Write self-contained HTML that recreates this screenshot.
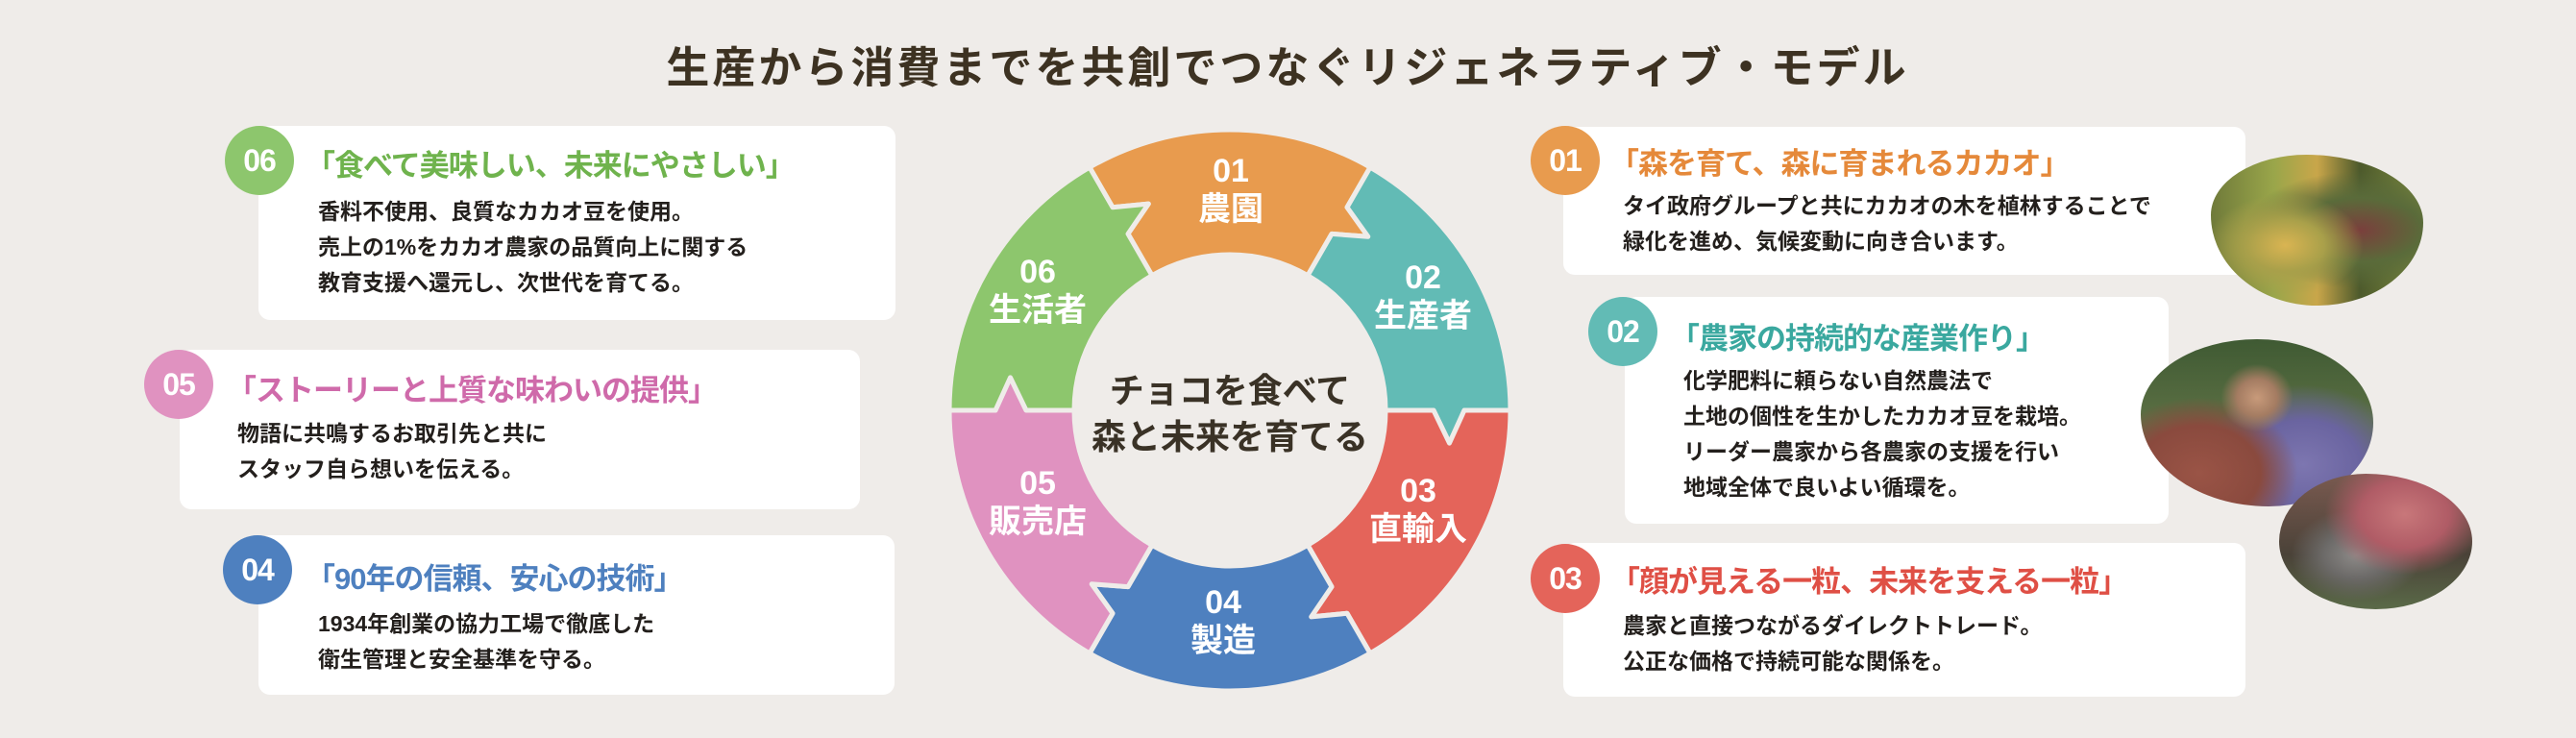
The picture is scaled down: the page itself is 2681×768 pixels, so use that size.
<!DOCTYPE html>
<html><head><meta charset="utf-8">
<style>
html,body{margin:0;padding:0}
body{width:2681px;height:768px;background:#efece9;position:relative;overflow:hidden;font-family:"Liberation Sans","Noto Sans CJK JP",sans-serif}
.a{position:absolute;white-space:nowrap}
.box{position:absolute;background:#fff;border-radius:12px}
.c{position:absolute;width:72px;height:72px;border-radius:50%;color:#fff;font-weight:bold;font-size:32px;line-height:72px;text-align:center;letter-spacing:-1px}
.h{position:absolute;white-space:nowrap;font-weight:bold;font-size:31px;line-height:31px;letter-spacing:-1px}
.b{position:absolute;white-space:nowrap;font-weight:bold;font-size:23px;line-height:37px;color:#231f1c}
.rl{position:absolute;color:#fff;font-weight:bold;text-align:center;width:160px;white-space:nowrap}
.rl .n{font-size:34px;line-height:40px}
.rl .t{font-size:34px;line-height:40px}
</style></head><body>
<div class="a" style="left:640px;top:47px;width:1400px;text-align:center;font-size:45px;line-height:48px;font-weight:bold;color:#3d3222;letter-spacing:3px">生産から消費までを共創でつなぐリジェネラティブ・モデル</div>

<!-- left boxes -->
<div class="box" style="left:269px;top:131px;width:663px;height:202px"></div>
<div class="c" style="left:234px;top:131px;background:#8dc66d">06</div>
<div class="h" style="left:318px;top:157px;color:#6fb34d">「食べて美味しい、未来にやさしい」</div>
<div class="b" style="left:331px;top:202px">香料不使用、良質なカカオ豆を使用。<br>売上の1%をカカオ農家の品質向上に関する<br>教育支援へ還元し、次世代を育てる。</div>

<div class="box" style="left:187px;top:364px;width:708px;height:166px"></div>
<div class="c" style="left:150px;top:364px;background:#e092c0">05</div>
<div class="h" style="left:236px;top:391px;color:#cf6aaa">「ストーリーと上質な味わいの提供」</div>
<div class="b" style="left:247px;top:433px">物語に共鳴するお取引先と共に<br>スタッフ自ら想いを伝える。</div>

<div class="box" style="left:269px;top:557px;width:662px;height:166px"></div>
<div class="c" style="left:232px;top:557px;background:#4e80bf">04</div>
<div class="h" style="left:318px;top:587px;color:#4e80bf">「90年の信頼、安心の技術」</div>
<div class="b" style="left:331px;top:631px">1934年創業の協力工場で徹底した<br>衛生管理と安全基準を守る。</div>

<!-- right boxes -->
<div class="box" style="left:1627px;top:132px;width:710px;height:154px"></div>
<div class="c" style="left:1593px;top:131px;background:#e89b4e">01</div>
<div class="h" style="left:1675px;top:155px;color:#e5893a">「森を育て、森に育まれるカカオ」</div>
<div class="b" style="left:1689px;top:196px">タイ政府グループと共にカカオの木を植林することで<br>緑化を進め、気候変動に向き合います。</div>

<div class="box" style="left:1691px;top:309px;width:566px;height:236px"></div>
<div class="c" style="left:1653px;top:309px;background:#62bbb5">02</div>
<div class="h" style="left:1738px;top:337px;color:#3aa89f">「農家の持続的な産業作り」</div>
<div class="b" style="left:1752px;top:378px">化学肥料に頼らない自然農法で<br>土地の個性を生かしたカカオ豆を栽培。<br>リーダー農家から各農家の支援を行い<br>地域全体で良いよい循環を。</div>

<div class="box" style="left:1627px;top:565px;width:710px;height:160px"></div>
<div class="c" style="left:1593px;top:566px;background:#e4645a">03</div>
<div class="h" style="left:1676px;top:590px;color:#df4f45">「顔が見える一粒、未来を支える一粒」</div>
<div class="b" style="left:1689px;top:633px">農家と直接つながるダイレクトトレード。<br>公正な価格で持続可能な関係を。</div>

<!-- photos -->
<div class="a" style="left:2301px;top:161px;width:221px;height:157px;border-radius:45% 55% 50% 50%/40% 45% 55% 60%;background:radial-gradient(ellipse at 35% 60%,#d9b452 0,#a9a04a 20%,transparent 40%),radial-gradient(ellipse at 70% 50%,#7a3f3c 0,#5a6b3a 30%,transparent 55%),linear-gradient(90deg,#6f7a3a,#9aa64a 30%,#c9a64a 50%,#4d5a2c 70%,#7c8a3e)"></div>
<div class="a" style="left:2228px;top:353px;width:242px;height:174px;border-radius:50% 50% 45% 55%/45% 50% 50% 55%;background:radial-gradient(ellipse at 50% 35%,#c89a7a 0,#a47c62 12%,transparent 22%),radial-gradient(ellipse at 25% 80%,#9a5446 0,#8a4a3e 25%,transparent 40%),radial-gradient(ellipse at 70% 75%,#7d76b0 0,#6a64a0 25%,transparent 45%),linear-gradient(180deg,#3f5a33,#5c7044 50%,#6a6a58)"></div>
<div class="a" style="left:2372px;top:493px;width:201px;height:141px;border-radius:45% 55% 50% 50%/50% 50% 50% 50%;background:radial-gradient(ellipse at 65% 30%,#c8777a 0,#b05c66 25%,transparent 45%),radial-gradient(ellipse at 40% 60%,#8d8a88 0,#6c6a68 20%,transparent 40%),linear-gradient(180deg,#7a5a50,#4a4238 60%,#5a6a48)"></div>

<!-- ring -->
<svg class="a" style="left:0;top:0" width="2681" height="768" id="ring"></svg>
<div class="a" style="left:1080px;top:383px;width:400px;text-align:center;font-size:36px;line-height:48px;font-weight:bold;color:#3a3226">チョコを食べて<br>森と未来を育てる</div>
<div class="rl" style="left:1201px;top:158px"><div class="n">01</div><div class="t">農園</div></div>
<div class="rl" style="left:1401px;top:269px"><div class="n">02</div><div class="t">生産者</div></div>
<div class="rl" style="left:1396px;top:491px"><div class="n">03</div><div class="t">直輸入</div></div>
<div class="rl" style="left:1193px;top:607px"><div class="n">04</div><div class="t">製造</div></div>
<div class="rl" style="left:1000px;top:483px"><div class="n">05</div><div class="t">販売店</div></div>
<div class="rl" style="left:1000px;top:263px"><div class="n">06</div><div class="t">生活者</div></div>
<script>
(function(){
var cx=1280,cy=427,R=292,r=162;
var cols=["#e89b4e","#62bbb5","#e4645a","#4e80bf","#e092c0","#8dc66d"];
function p(rad,deg){var a=deg*Math.PI/180;return (cx+rad*Math.cos(a)).toFixed(1)+","+(cy+rad*Math.sin(a)).toFixed(1);}
var s="";
for(var i=0;i<6;i++){
 var c=-90+60*i,a0=c-30,a1=c+30;
 var d="M"+p(R,a0)+" A"+R+","+R+" 0 0 1 "+p(R,a1)+
 " L"+p(244,a1)+" L"+p(231,a1+8.5)+" L"+p(212,a1)+" L"+p(r,a1)+
 " A"+r+","+r+" 0 0 0 "+p(r,a0)+
 " L"+p(212,a0)+" L"+p(231,a0+8.5)+" L"+p(244,a0)+" Z";
 s+='<path d="'+d+'" fill="'+cols[i]+'" stroke="#efece9" stroke-width="5" stroke-linejoin="round"/>';
}
document.getElementById("ring").innerHTML=s;
})();
</script>
</body></html>
